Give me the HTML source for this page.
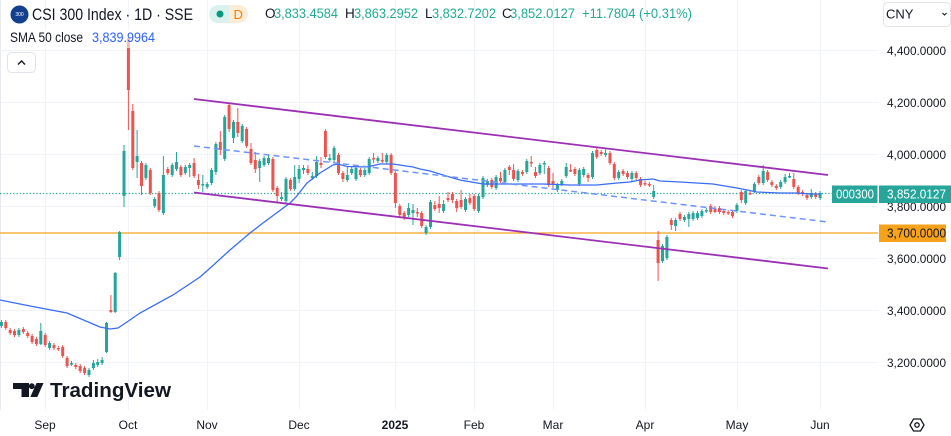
<!DOCTYPE html>
<html><head><meta charset="utf-8"><style>
html,body{margin:0;padding:0;background:#fff;}
svg{display:block;font-family:"Liberation Sans",sans-serif;}
</style></head><body>
<svg width="951" height="436" viewBox="0 0 951 436" xmlns="http://www.w3.org/2000/svg">
<rect width="951" height="436" fill="#fff"/>
<!-- grid -->
<g stroke="#f0f3fa" stroke-width="1">
<path d="M0 50.5H878M0 102.5H878M0 154.5H878M0 206.5H878M0 258.5H878M0 310.5H878M0 362.5H878"/>
<path d="M45.5 0V410M128.5 0V410M207.5 0V410M299.5 0V410M395.5 0V410M474.5 0V410M553.5 0V410M645.5 0V410M737.5 0V410M820.5 0V410"/>
</g>
<path d="M0.5 0V410" stroke="#e8eaef"/>
<!-- horizontal lines -->
<path d="M0 233H878" stroke="#f7a21b" stroke-width="1.2"/>
<path d="M0 193.5H832" stroke="#26a69a" stroke-width="1.3" stroke-dasharray="1.3 2"/>
<!-- red candles -->
<path stroke="#ef5350" stroke-width="1" fill="none" d="M5.8 320V330M10.2 328V335M14.5 329V337M23.3 327V334M27.7 331V338M32.1 334V344M36.4 337V346M45.2 333V347M54.0 343V350M58.3 346V351M62.7 345V358M67.1 356V368M75.8 363V369M80.2 364V373M84.6 366V375M110.9 295V313M128.4 38V130M132.8 104V170M141.5 161V195M150.3 168V195M159.0 191V212M167.8 167V175M180.9 165V177M194.1 158V178M198.4 174V189M220.3 131V155M229.1 103V132M237.8 108V137M246.6 127V148M251.0 143V165M255.3 152V173M272.9 157V192M277.2 186V203M290.4 178V191M307.9 165V175M321.0 157V168M325.4 129V159M338.5 153V175M342.9 171V182M360.4 168V177M373.6 153V163M382.3 153V163M391.1 153V175M395.4 171V208M399.8 204V218M404.2 211V220M417.3 208V217M421.7 211V228M434.8 201V211M439.2 196V213M448.0 192V202M452.4 192V203M456.7 199V212M461.1 190V209M469.9 194V205M474.2 194V211M491.8 178V189M500.5 172V183M509.3 165V175M513.6 164V181M522.4 170V176M531.2 156V167M535.5 167V178M548.7 166V187M553.0 173V188M570.6 164V172M574.9 167V176M588.1 173V182M596.8 148V159M601.2 150V156M610.0 151V165M614.3 162V180M623.1 169V176M627.5 171V179M636.2 171V180M640.6 177V187M645.0 181V186M649.4 182V187M658.1 231V281M671.3 218V230M680.0 212V221M710.7 204V214M715.0 206V213M719.4 206V214M723.8 209V215M728.2 210V215M732.5 210V218M741.3 190V203M750.1 191V195M758.8 175V185M767.6 170V182M771.9 180V187M776.3 184V190M793.8 173V189M798.2 185V195M802.6 190V196M807.0 193V200M815.7 192V199"/>
<path fill="#ef5350" d="M4.3 322h3V328h-3zM8.7 330h3V333h-3zM13.0 331h3V335h-3zM21.8 329h3V332h-3zM26.2 333h3V336h-3zM30.6 336h3V342h-3zM34.9 339h3V344h-3zM43.7 335h3V345h-3zM52.5 345h3V348h-3zM56.8 348h3V349.5h-3zM61.2 347h3V356h-3zM65.6 358h3V366h-3zM74.3 365h3V367h-3zM78.7 366h3V371h-3zM83.1 368h3V373h-3zM109.4 310h3V312h-3zM126.9 38h3V90h-3zM131.3 111h3V168h-3zM140.0 163h3V186h-3zM148.8 170h3V193h-3zM157.5 193h3V210h-3zM166.3 169h3V173h-3zM179.4 167h3V175h-3zM192.6 163h3V176h-3zM196.9 180h3V185h-3zM218.8 142h3V150h-3zM227.6 105h3V129h-3zM236.3 122h3V133h-3zM245.1 129h3V146h-3zM249.5 149h3V163h-3zM253.8 160h3V169h-3zM271.4 159h3V190h-3zM275.7 188h3V196h-3zM288.9 180h3V189h-3zM306.4 169h3V173h-3zM319.5 163h3V165h-3zM323.9 131h3V157h-3zM337.0 155h3V173h-3zM341.4 173h3V179h-3zM358.9 170h3V175h-3zM372.1 158h3V159.5h-3zM380.8 160h3V161.5h-3zM389.6 155h3V173h-3zM393.9 173h3V203h-3zM398.3 206h3V215h-3zM402.7 213h3V218h-3zM415.8 212h3V213.5h-3zM420.2 213h3V226h-3zM433.3 205h3V209h-3zM437.7 204h3V208h-3zM446.5 198h3V200h-3zM450.9 194h3V200h-3zM455.2 201h3V208h-3zM459.6 200h3V207h-3zM468.4 198h3V203h-3zM472.7 196h3V209h-3zM490.3 180h3V187h-3zM499.0 178h3V181h-3zM507.8 167h3V170h-3zM512.1 170h3V179h-3zM520.9 172h3V174h-3zM529.7 162h3V163.5h-3zM534.0 172h3V176h-3zM547.2 168h3V185h-3zM551.5 181h3V185h-3zM569.1 170h3V171.5h-3zM573.4 169h3V174h-3zM586.6 175h3V178h-3zM595.3 150h3V157h-3zM599.7 152h3V154h-3zM608.5 153h3V163h-3zM612.8 164h3V178h-3zM621.6 171h3V174h-3zM626.0 173h3V177h-3zM634.7 173h3V178h-3zM639.1 179h3V185h-3zM643.5 183h3V184.5h-3zM647.9 184h3V185.5h-3zM656.6 240h3V263h-3zM669.8 220h3V225h-3zM678.5 214h3V219h-3zM709.2 206h3V212h-3zM713.5 209h3V212h-3zM717.9 208h3V212h-3zM722.3 211h3V213h-3zM726.7 212h3V213.5h-3zM731.0 212h3V216h-3zM739.8 192h3V200h-3zM748.6 193h3V194.5h-3zM757.3 177h3V183h-3zM766.1 172h3V180h-3zM770.4 182h3V185h-3zM774.8 186h3V188h-3zM792.3 179h3V187h-3zM796.7 187h3V193h-3zM801.1 192h3V194h-3zM805.5 195h3V198h-3zM814.2 194h3V197h-3z"/>
<!-- teal candles -->
<path stroke="#26a69a" stroke-width="1" fill="none" d="M1.4 320V328M18.9 328V337M40.8 323V345M49.6 341V350M71.5 361V366M89.0 368V377M93.4 360V370M97.7 359V367M102.1 357V365M106.5 322V353M115.2 272V313M119.6 231V260M124.0 145V207M137.1 130V178M145.9 163V180M154.7 197V208M163.4 156V215M172.2 163V177M176.5 152V171M185.3 165V175M189.7 163V177M202.8 175V192M207.2 182V189M211.6 168V185M215.9 142V175M224.7 115V161M233.5 120V143M242.2 124V143M259.7 159V182M264.1 156V167M268.5 155V165M281.6 192V201M286.0 177V203M294.7 165V191M299.1 165V183M303.5 165V174M312.3 172V180M316.6 156V178M329.8 154V162M334.1 146V162M347.3 166V182M351.7 167V175M356.0 166V181M364.8 168V177M369.2 157V175M377.9 156V163M386.7 153V164M408.6 203V217M413.0 204V225M426.1 225V235M430.5 200V229M443.6 200V213M465.5 197V212M478.6 194V213M483.0 176V199M487.4 179V187M496.1 175V190M504.9 168V184M518.0 169V182M526.8 159V174M539.9 163V175M544.3 161V174M557.4 183V192M561.8 179V186M566.2 163V178M579.3 168V186M583.7 167V177M592.5 151V179M605.6 149V157M618.7 170V180M631.9 171V181M653.7 185V199M662.5 244V263M666.9 235V260M675.6 218V231M684.4 215V222M688.8 212V227M693.1 211V221M697.5 211V220M701.9 209V218M706.3 208V213M736.9 203V213M745.7 189V205M754.4 182V193M763.2 165V185M780.7 180V189M785.1 174V184M789.5 173V178M811.3 189V199M820.1 191V200"/>
<path fill="#26a69a" d="M-0.1 322h3V326h-3zM17.4 330h3V335h-3zM39.3 331h3V344h-3zM48.1 343h3V348h-3zM70.0 363h3V364.5h-3zM87.5 370h3V375h-3zM91.9 363h3V368h-3zM96.2 362h3V365h-3zM100.6 360h3V363h-3zM105.0 323h3V352h-3zM113.7 273h3V312h-3zM118.1 232h3V257h-3zM122.5 151h3V196h-3zM135.6 156h3V162h-3zM144.4 165h3V178h-3zM153.2 199h3V206h-3zM161.9 175h3V213h-3zM170.7 165h3V175h-3zM175.0 162h3V169h-3zM183.8 167h3V173h-3zM188.2 165h3V168h-3zM201.3 184h3V185.5h-3zM205.7 184h3V187h-3zM210.1 170h3V183h-3zM214.4 144h3V172h-3zM223.2 117h3V159h-3zM232.0 122h3V138h-3zM240.7 126h3V141h-3zM258.2 161h3V168h-3zM262.6 158h3V165h-3zM267.0 158h3V163h-3zM280.1 197h3V199h-3zM284.5 179h3V201h-3zM293.2 177h3V189h-3zM297.6 169h3V179h-3zM302.0 168h3V170h-3zM310.8 176h3V178h-3zM315.1 162h3V176h-3zM328.3 158h3V160h-3zM332.6 148h3V160h-3zM345.8 175h3V180h-3zM350.2 169h3V173h-3zM354.5 168h3V179h-3zM363.3 170h3V175h-3zM367.7 159h3V173h-3zM376.4 158h3V161h-3zM385.2 155h3V162h-3zM407.1 208h3V215h-3zM411.5 210h3V213h-3zM424.6 227h3V233h-3zM429.0 202h3V227h-3zM442.1 204h3V211h-3zM464.0 199h3V210h-3zM477.1 196h3V211h-3zM481.5 178h3V197h-3zM485.9 181h3V185h-3zM494.6 177h3V188h-3zM503.4 170h3V182h-3zM516.5 171h3V180h-3zM525.3 161h3V172h-3zM538.4 165h3V173h-3zM542.8 163h3V164.5h-3zM555.9 185h3V190h-3zM560.3 181h3V184h-3zM564.7 167h3V176h-3zM577.8 170h3V184h-3zM582.2 169h3V175h-3zM591.0 153h3V177h-3zM604.1 153h3V155h-3zM617.2 172h3V178h-3zM630.4 173h3V179h-3zM652.2 191h3V197h-3zM661.0 246h3V261h-3zM665.4 237h3V258h-3zM674.1 220h3V226h-3zM682.9 217h3V220h-3zM687.3 214h3V219h-3zM691.6 213h3V219h-3zM696.0 213h3V218h-3zM700.4 211h3V216h-3zM704.8 210h3V211.5h-3zM735.4 205h3V211h-3zM744.2 191h3V203h-3zM752.9 184h3V191h-3zM761.7 171h3V183h-3zM779.2 182h3V187h-3zM783.6 177h3V182h-3zM788.0 176h3V177.5h-3zM809.8 193h3V197h-3zM818.6 193h3V198h-3z"/>
<!-- SMA 50 -->
<polyline fill="none" stroke="#3a6cf4" stroke-width="1.3" points="0,300 30,306 67,313 100,327 110,329 118,328 127,322 140,313 173,295 200,277 208,270 230,250 250,233 263,223 290,203 296,197 307,183 320,173 333,165 338,164 347,166.5 367,167 380,164 393,164 413,167 420,169 430,171 443,175 460,180 483,184 510,184 543,184 570,185 597,185 617,183 630,182 640,180 653,179 660,181 680,182 713,184 737,188 757,192 780,193 797,193 810,194 820,194"/>
<!-- channel -->
<path d="M194 146L828 222" stroke="#6d94ff" stroke-width="1.5" stroke-dasharray="6 4" fill="none"/>
<path d="M194 99L828 175M194 192.5L828 268.5" stroke="#9b30b5" stroke-width="1.8" fill="none"/>
<!-- legend overlay -->
<rect x="5" y="28" width="155" height="20" fill="#fff" opacity="0.6"/>
<!-- header -->
<circle cx="19.5" cy="14.5" r="9" fill="#12408f"/>
<text x="19.5" y="16.2" font-size="5" fill="#fff" text-anchor="middle">300</text>
<text x="32" y="20" font-size="16.5" fill="#131722" textLength="161" lengthAdjust="spacingAndGlyphs">CSI 300 Index · 1D · SSE</text>
<path d="M218 5h11v18h-11a9 9 0 0 1 0-18z" fill="#daf1ee"/>
<path d="M229 5h10a9 9 0 0 1 0 18h-10z" fill="#fdecd6"/>
<circle cx="220" cy="14" r="3.5" fill="#089981"/>
<text x="233.5" y="19" font-size="13" fill="#f57c00">D</text>
<g font-size="13.5">
<text x="265" y="18" fill="#131722">O</text>
<text x="274" y="18" fill="#22ab94" textLength="64" lengthAdjust="spacingAndGlyphs">3,833.4584</text>
<text x="345" y="18" fill="#131722">H</text>
<text x="354" y="18" fill="#22ab94" textLength="64" lengthAdjust="spacingAndGlyphs">3,863.2952</text>
<text x="425" y="18" fill="#131722">L</text>
<text x="432" y="18" fill="#22ab94" textLength="64" lengthAdjust="spacingAndGlyphs">3,832.7202</text>
<text x="502" y="18" fill="#131722">C</text>
<text x="510" y="18" fill="#22ab94" textLength="65" lengthAdjust="spacingAndGlyphs">3,852.0127</text>
<text x="582" y="18" fill="#22ab94" textLength="110" lengthAdjust="spacingAndGlyphs">+11.7804 (+0.31%)</text>
<text x="10" y="42" fill="#131722" textLength="73" lengthAdjust="spacingAndGlyphs">SMA 50 close</text>
<text x="92" y="42" fill="#2962ff" textLength="63" lengthAdjust="spacingAndGlyphs">3,839.9964</text>
</g>
<rect x="7.5" y="52.5" width="28" height="20" rx="4" fill="#fff" stroke="#e0e3eb"/>
<polyline points="18,64.5 21.5,61 25,64.5" fill="none" stroke="#131722" stroke-width="1.4"/>
<!-- CNY -->
<rect x="883.5" y="2.5" width="67" height="24" rx="4" fill="#fff" stroke="#e0e3eb"/>
<text x="886" y="18.5" font-size="13" fill="#131722">CNY</text>
<polyline points="942.5,13 944.5,15 946.5,13" fill="none" stroke="#131722" stroke-width="1.1"/>
<!-- price axis -->
<g font-size="12" fill="#131722">
<text x="887" y="55" textLength="59" lengthAdjust="spacingAndGlyphs">4,400.0000</text>
<text x="887" y="107" textLength="59" lengthAdjust="spacingAndGlyphs">4,200.0000</text>
<text x="887" y="159" textLength="59" lengthAdjust="spacingAndGlyphs">4,000.0000</text>
<text x="887" y="211" textLength="59" lengthAdjust="spacingAndGlyphs">3,800.0000</text>
<text x="887" y="263" textLength="59" lengthAdjust="spacingAndGlyphs">3,600.0000</text>
<text x="887" y="315" textLength="59" lengthAdjust="spacingAndGlyphs">3,400.0000</text>
<text x="887" y="367" textLength="59" lengthAdjust="spacingAndGlyphs">3,200.0000</text>
</g>
<rect x="832" y="185.5" width="45.5" height="17.5" fill="#26a69a"/>
<text x="836" y="198.5" font-size="12.5" fill="#fff" textLength="38" lengthAdjust="spacingAndGlyphs">000300</text>
<rect x="879" y="185.5" width="72" height="17.5" fill="#26a69a"/>
<text x="887" y="198.5" font-size="12.5" fill="#fff" textLength="59" lengthAdjust="spacingAndGlyphs">3,852.0127</text>
<rect x="879" y="224.5" width="67" height="17.5" fill="#f7a21b"/>
<text x="887" y="237.5" font-size="12.5" fill="#131722" textLength="59" lengthAdjust="spacingAndGlyphs">3,700.0000</text>
<!-- logo -->
<g fill="#131722">
<path d="M13 383h16v14h-7.5v-8H13z"/>
<circle cx="31.8" cy="386.2" r="2.9"/>
<path d="M36.5 383h7l-6.2 14h-7z"/>
</g>
<text x="50" y="397" font-size="20" font-weight="bold" fill="#131722" textLength="121" lengthAdjust="spacingAndGlyphs">TradingView</text>
<!-- time axis -->
<g font-size="12" fill="#131722" text-anchor="middle">
<text x="45" y="429">Sep</text>
<text x="128" y="429">Oct</text>
<text x="207" y="429">Nov</text>
<text x="299" y="429">Dec</text>
<text x="395" y="429" font-weight="bold">2025</text>
<text x="474" y="429">Feb</text>
<text x="553" y="429">Mar</text>
<text x="645" y="429">Apr</text>
<text x="737" y="429">May</text>
<text x="820" y="429">Jun</text>
</g>
<!-- settings -->
<path d="M913.5 419h7l3.5 6l-3.5 6h-7l-3.5-6z" fill="none" stroke="#131722" stroke-width="1.3"/>
<circle cx="917" cy="425" r="2.2" fill="none" stroke="#131722" stroke-width="1.3"/>
</svg>
</body></html>
